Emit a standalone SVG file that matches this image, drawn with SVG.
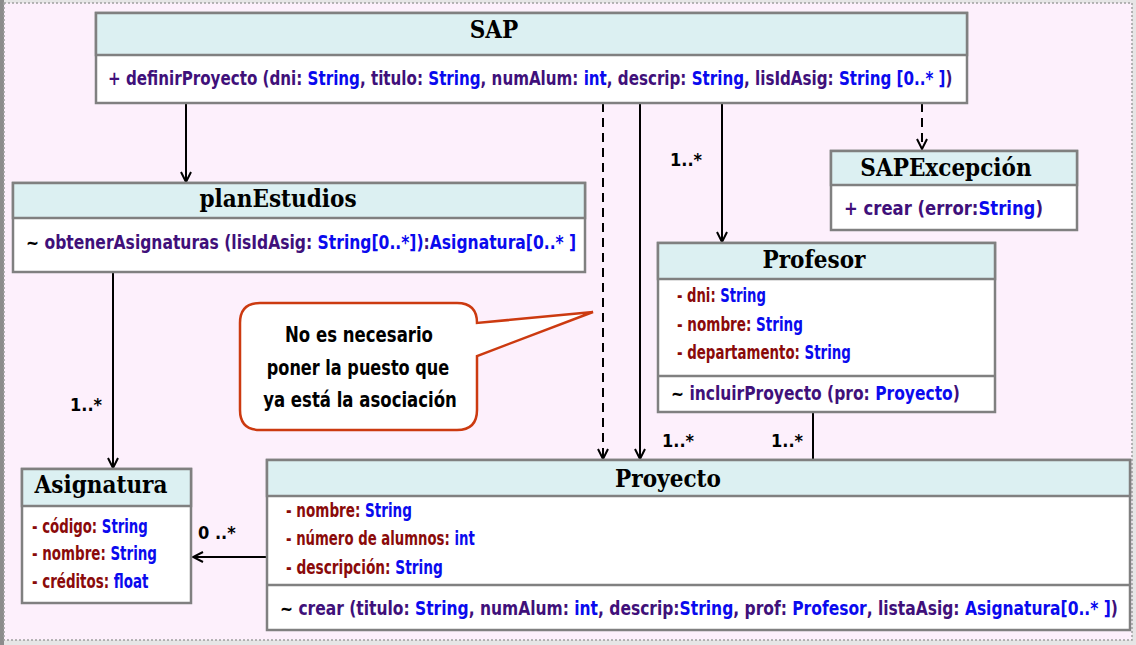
<svg xmlns="http://www.w3.org/2000/svg" width="1136" height="645" viewBox="0 0 1136 645">
<defs>
<marker id="open" viewBox="0 0 12 12" refX="11" refY="6" markerWidth="12" markerHeight="12" markerUnits="userSpaceOnUse" orient="auto">
<path d="M1,1 L11,6 L1,11" fill="none" stroke="#000" stroke-width="2"/>
</marker>
<style>
.box{fill:#fff;stroke:#808080;stroke-width:2.5}
.hdr{fill:#dcf0f2;stroke:#808080;stroke-width:2.5}
.title{font-family:"DejaVu Serif Condensed","DejaVu Serif",serif;font-weight:bold;font-size:24px;fill:#000;text-anchor:middle}
.t{font-family:"DejaVu Sans Condensed","DejaVu Sans",sans-serif;font-weight:bold;font-size:20px}
.m{fill:#40107a}
.ty{fill:#0a0aee}
.a{fill:#8a0a0a}
.k{fill:#000}
.lbl{font-family:"DejaVu Sans Condensed","DejaVu Sans",sans-serif;font-weight:bold;font-size:18px;fill:#000}
.ln{stroke:#000;stroke-width:2;fill:none}
.dash{stroke-dasharray:9 6}
.note{font-family:"DejaVu Sans Condensed","DejaVu Sans",sans-serif;font-weight:bold;font-size:22px;fill:#000;text-anchor:middle}
</style>
</defs>
<rect x="0" y="0" width="1136" height="645" fill="#e6e6e6"/>
<rect x="0" y="0" width="4" height="645" fill="#8c8c8c"/>
<rect x="4" y="3" width="1128" height="637" fill="#fdf0fc" stroke="#a0a0a0" stroke-width="1.5" stroke-dasharray="2 2"/>

<g id="connectors">
<line class="ln" x1="186" y1="103" x2="186" y2="182" marker-end="url(#open)"/>
<line class="ln" x1="113" y1="273" x2="113" y2="468" marker-end="url(#open)"/>
<line class="ln dash" x1="603" y1="103" x2="603" y2="459" marker-end="url(#open)"/>
<line class="ln" x1="640" y1="103" x2="640" y2="459" marker-end="url(#open)"/>
<line class="ln" x1="722" y1="103" x2="722" y2="242" marker-end="url(#open)"/>
<line class="ln dash" x1="922" y1="103" x2="922" y2="149" marker-end="url(#open)"/>
<line class="ln" x1="813" y1="413" x2="813" y2="460"/>
<line class="ln" x1="267" y1="557" x2="193" y2="557" marker-end="url(#open)"/>
<text class="lbl" x="670" y="166">1..*</text>
<text class="lbl" x="70" y="411">1..*</text>
<text class="lbl" x="662" y="447">1..*</text>
<text class="lbl" x="771" y="447">1..*</text>
<text class="lbl" x="198" y="539">0 ..*</text>
</g>

<g id="SAP">
<rect class="box" x="96" y="13" width="871" height="90"/>
<rect class="hdr" x="96" y="13" width="871" height="42"/>
<text class="title" x="494" y="38">SAP</text>
<text class="t" transform="translate(108,85) scale(0.841,1)"><tspan class="m">+ definirProyecto (dni: </tspan><tspan class="ty">String</tspan><tspan class="m">, titulo: </tspan><tspan class="ty">String</tspan><tspan class="m">, numAlum: </tspan><tspan class="ty">int</tspan><tspan class="m">, descrip: </tspan><tspan class="ty">String</tspan><tspan class="m">, lisIdAsig: </tspan><tspan class="ty">String [0..* ]</tspan><tspan class="m">)</tspan></text>
</g>

<g id="planEstudios">
<rect class="box" x="13" y="183" width="572" height="89"/>
<rect class="hdr" x="13" y="183" width="572" height="35"/>
<text class="title" x="278" y="207">planEstudios</text>
<text class="t" transform="translate(26,249) scale(0.865,1)"><tspan class="k">~ </tspan><tspan class="m">obtenerAsignaturas (lisIdAsig: </tspan><tspan class="ty">String[0..*])</tspan><tspan class="m">:</tspan><tspan class="ty">Asignatura[0..* ]</tspan></text>
</g>

<g id="SAPExcepcion">
<rect class="box" x="831" y="151" width="246" height="79"/>
<rect class="hdr" x="831" y="151" width="246" height="34"/>
<text class="title" x="946" y="176">SAPExcepción</text>
<text class="t" transform="translate(844,215) scale(0.915,1)"><tspan class="m">+ crear (error:</tspan><tspan class="ty">String</tspan><tspan class="m">)</tspan></text>
</g>

<g id="Profesor">
<rect class="box" x="658" y="243" width="337" height="169"/>
<rect class="hdr" x="658" y="243" width="337" height="36"/>
<line x1="658" y1="376" x2="995" y2="376" stroke="#808080" stroke-width="2.5"/>
<text class="title" x="814" y="268">Profesor</text>
<text class="t" transform="translate(677,302) scale(0.733,1)"><tspan class="a">- dni: </tspan><tspan class="ty">String</tspan></text>
<text class="t" transform="translate(677,331) scale(0.753,1)"><tspan class="a">- nombre: </tspan><tspan class="ty">String</tspan></text>
<text class="t" transform="translate(677,359) scale(0.744,1)"><tspan class="a">- departamento: </tspan><tspan class="ty">String</tspan></text>
<text class="t" transform="translate(671,400) scale(0.862,1)"><tspan class="k">~ </tspan><tspan class="m">incluirProyecto (pro: </tspan><tspan class="ty">Proyecto</tspan><tspan class="m">)</tspan></text>
</g>

<g id="note">
<path d="M260,303 H457 Q477,303 477,323 L593,312 L477,356 V410 Q477,430 457,430 H260 Q240,430 240,410 V323 Q240,303 260,303 Z" fill="#fff" stroke="#cc3a10" stroke-width="2.5"/>
<text class="note" transform="translate(359,342) scale(0.836,1)">No es necesario</text>
<text class="note" transform="translate(358,375) scale(0.815,1)">poner la puesto que</text>
<text class="note" transform="translate(360,407) scale(0.836,1)">ya está la asociación</text>
</g>

<g id="Proyecto">
<rect class="box" x="267" y="460" width="863" height="170"/>
<rect class="hdr" x="267" y="460" width="863" height="36"/>
<line x1="267" y1="585" x2="1130" y2="585" stroke="#808080" stroke-width="2.5"/>
<text class="title" x="668" y="487">Proyecto</text>
<text class="t" transform="translate(286,517) scale(0.753,1)"><tspan class="a">- nombre: </tspan><tspan class="ty">String</tspan></text>
<text class="t" transform="translate(286,545) scale(0.738,1)"><tspan class="a">- número de alumnos: </tspan><tspan class="ty">int</tspan></text>
<text class="t" transform="translate(286,574) scale(0.762,1)"><tspan class="a">- descripción: </tspan><tspan class="ty">String</tspan></text>
<text class="t" transform="translate(280,615) scale(0.862,1)"><tspan class="k">~ </tspan><tspan class="m">crear (titulo: </tspan><tspan class="ty">String</tspan><tspan class="m">, numAlum: </tspan><tspan class="ty">int</tspan><tspan class="m">, descrip:</tspan><tspan class="ty">String</tspan><tspan class="m">, prof: </tspan><tspan class="ty">Profesor</tspan><tspan class="m">,  listaAsig: </tspan><tspan class="ty">Asignatura[0..* ]</tspan><tspan class="m">)</tspan></text>
</g>

<g id="Asignatura">
<rect class="box" x="22" y="469" width="169" height="134"/>
<rect class="hdr" x="22" y="469" width="169" height="37"/>
<text class="title" x="101" y="493">Asignatura</text>
<text class="t" transform="translate(32,533) scale(0.739,1)"><tspan class="a">- código: </tspan><tspan class="ty">String</tspan></text>
<text class="t" transform="translate(32,560) scale(0.747,1)"><tspan class="a">- nombre: </tspan><tspan class="ty">String</tspan></text>
<text class="t" transform="translate(32,588) scale(0.746,1)"><tspan class="a">- créditos: </tspan><tspan class="ty">float</tspan></text>
</g>
</svg>
